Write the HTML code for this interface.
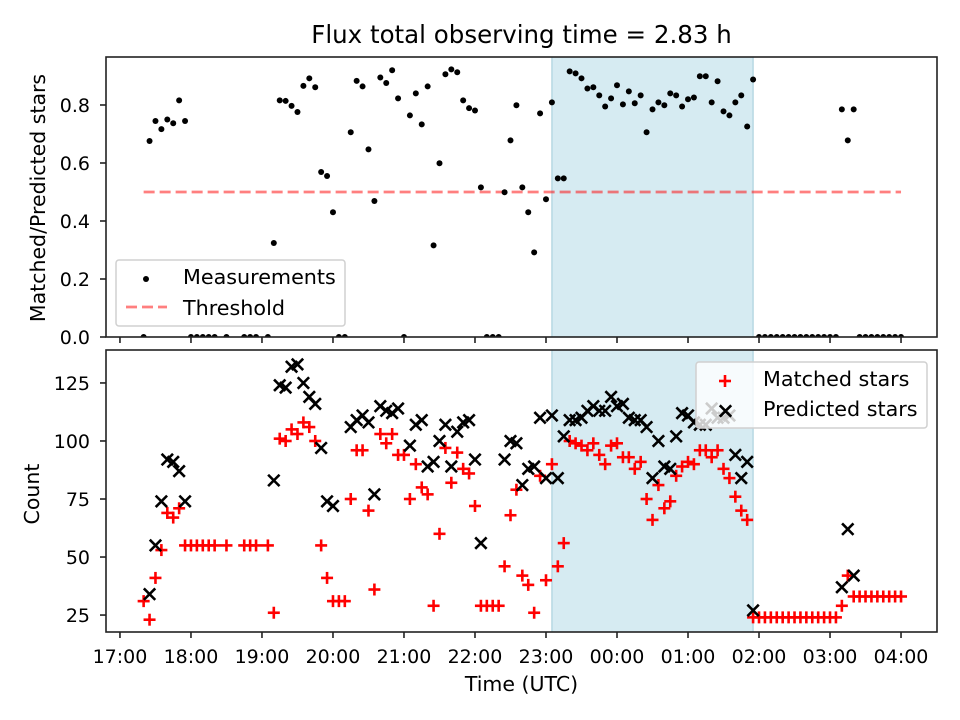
<!DOCTYPE html>
<html><head><meta charset="utf-8"><title>Flux observing time</title>
<style>
html,body{margin:0;padding:0;background:#fff;}
svg{display:block;font-family:"DejaVu Sans","Liberation Sans",sans-serif;}
</style></head>
<body>
<svg id="chart" width="960" height="720" viewBox="0 0 960 720" xmlns="http://www.w3.org/2000/svg">
<defs>
<clipPath id="clipTop"><rect x="106" y="57" width="831" height="280"/></clipPath>
<clipPath id="clipBot"><rect x="106" y="350" width="831" height="282"/></clipPath>
</defs>
<text x="521.5" y="43" font-size="24.5" text-anchor="middle">Flux total observing time = 2.83 h</text>
<g id="topPanel"></g>
<g id="botPanel"></g>
<text transform="translate(45,198) rotate(-90)" font-size="20.5" text-anchor="middle">Matched/Predicted stars</text>
<text transform="translate(39,494) rotate(-90)" font-size="20.5" text-anchor="middle">Count</text>
<text x="521.5" y="691" font-size="20.5" text-anchor="middle">Time (UTC)</text>
</svg>
<script>
// minutes after 17:00 UTC
const ratioTimes = [20,25,30,35,40,45,50,55,60,65,70,75,80,90,105,110,115,125,130,135,140,145,150,155,160,165,170,175,180,185,190,195,200,205,210,215,220,225,230,235,240,245,250,255,260,265,270,275,280,285,290,295,300,305,310,315,320,325,330,335,340,345,350,355,360,365,370,375,380,385,390,395,400,405,410,415,420,425,430,435,440,445,450,455,460,465,470,475,480,485,490,495,500,505,510,515,520,525,530,535,540,545,550,555,560,565,570,575,580,585,590,595,600,605,610,615,620,625,630,635,640,645,650,655,660];
const ratioValues = [0,.676,.745,.717,.75,.737,.816,.745,0,0,0,0,0,0,0,0,0,0,.324,.816,.814,.797,.776,.866,.892,.861,.569,.555,.43,0,0,.706,.883,.864,.647,.469,.895,.876,.92,.823,0,.764,.84,.733,.864,.316,.599,.906,.923,.913,.816,.789,.781,.516,0,0,0,.499,.678,.799,.516,.43,.292,.771,.475,.809,.547,.547,.916,.909,.892,.857,.861,.833,.795,.823,.868,.802,.847,.806,.833,.706,.785,.809,.799,.84,.833,.795,.82,.826,.899,.899,.809,.882,.778,.764,.809,.833,.726,.888,0,0,0,0,0,0,0,0,0,0,0,0,0,0,.785,.678,.785,0,0,0,0,0,0,0,0];
const thresholdValue = 0.5;
const thresholdRange = [20,660];
const spanRange = [365,535];
const matchedTimes = [20,25,30,35,40,45,50,55,60,65,70,75,80,90,105,110,115,125,130,135,140,145,150,155,160,165,170,175,180,185,190,195,200,205,210,215,220,225,230,235,240,245,250,255,260,265,270,275,280,285,290,295,300,305,310,315,320,325,330,335,340,345,350,355,360,365,370,375,380,385,390,395,400,405,410,415,420,425,430,435,440,445,450,455,460,465,470,475,480,485,490,495,500,505,510,515,520,525,530,535,540,545,550,555,560,565,570,575,580,585,590,595,600,605,610,615,620,625,630,635,640,645,650,655,660];
const matchedValues = [31,23,41,53,69,67,71,55,55,55,55,55,55,55,55,55,55,55,26,101,100,105,103,108,106,100,55,41,31,31,31,75,96,96,70,36,103,99,103,94,94,75,90,80,77,29,60,97,82,95,88,86,72,29,29,29,29,46,68,79,42,38,26,85,40,90,46,56,100,99,98,96,99,94,90,98,99,93,93,88,91,75,66,81,71,74,85,89,91,90,96,96,93,96,88,84,76,70,66,24,24,24,24,24,24,24,24,24,24,24,24,24,24,24,29,42,33,33,33,33,33,33,33,33,33];
const predictedTimes = [25,30,35,40,45,50,55,130,135,140,145,150,155,160,165,170,175,180,195,200,205,210,215,220,225,230,235,245,250,255,260,265,270,275,280,285,290,295,300,305,325,330,335,340,345,350,355,360,365,370,375,380,385,390,395,400,405,410,415,420,425,430,435,440,445,450,455,460,465,470,475,480,485,490,495,500,505,510,515,520,525,530,535,610,615,620];
const predictedValues = [34,55,74,92,91,87,74,83,124,123,132,133,125,119,116,97,74,72,106,109,111,108,77,115,113,112,114,98,107,109,89,91,100,107,89,104,108,109,92,56,92,100,99,81,88,89,110,84,111,84,102,109,109,110,113,115,113,113,119,115,116,110,109,109,106,84,100,89,88,102,112,111,108,107,107,114,110,110,111,94,84,91,27,37,62,42];
const ratioTicks = [0,0.2,0.4,0.6,0.8];
const ratioTickLabels = ["0.0","0.2","0.4","0.6","0.8"];
const countTicks = [25,50,75,100,125];
const timeTicks = [0,60,120,180,240,300,360,420,480,540,600,660];
const timeTickLabels = ["17:00","18:00","19:00","20:00","21:00","22:00","23:00","00:00","01:00","02:00","03:00","04:00"];

const NS = "http://www.w3.org/2000/svg";
const L = 106, R = 937;
const xMin = -11.8, xMax = 690.4;
const topY0 = 337, topY1 = 57, rMin = 0, rMax = 0.9655;
const botY0 = 632, botY1 = 350, cMin = 17.7, cMax = 139.2;
function xs(m){ return L + (m - xMin) / (xMax - xMin) * (R - L); }
function yr(v){ return topY0 - (v - rMin) / (rMax - rMin) * (topY0 - topY1); }
function yc(v){ return botY0 - (v - cMin) / (cMax - cMin) * (botY0 - botY1); }
function el(tag, attrs, parent){
  const e = document.createElementNS(NS, tag);
  for (const k in attrs) e.setAttribute(k, attrs[k]);
  parent.appendChild(e);
  return e;
}
const topG = document.getElementById('topPanel');
const botG = document.getElementById('botPanel');

function spanRect(parent, y0, y1){
  const r = el('rect', {x: xs(spanRange[0]), y: y1, width: xs(spanRange[1]) - xs(spanRange[0]), height: y0 - y1, fill: '#add8e6', 'fill-opacity': 0.5, stroke: '#9fcbd9', 'stroke-width': 1}, parent);
  
  
}
spanRect(topG, topY0, topY1);
spanRect(botG, botY0, botY1);

const tg = el('g', {'clip-path': 'url(#clipTop)'}, topG);
const th = el('line', {x1: xs(thresholdRange[0]), x2: xs(thresholdRange[1]), y1: yr(thresholdValue), y2: yr(thresholdValue), stroke: '#ff0000', 'stroke-opacity': 0.5, 'stroke-width': 2.8, 'stroke-dasharray': '11,5'}, tg);


for (let i = 0; i < ratioTimes.length; i++){
  const c = el('circle', {cx: xs(ratioTimes[i]), cy: yr(ratioValues[i]), r: 3, fill: '#000'}, tg);
  
  
}
const bg = el('g', {'clip-path': 'url(#clipBot)'}, botG);
function plus(parent, x, y){
  const g = el('g', {stroke: '#ff0000', 'stroke-width': 2.6}, parent);
  el('line', {x1: x - 6, x2: x + 6, y1: y, y2: y}, g);
  el('line', {x1: x, x2: x, y1: y - 6, y2: y + 6}, g);
  return g;
}
function cross(parent, x, y){
  const g = el('g', {stroke: '#000', 'stroke-width': 2.6}, parent);
  el('line', {x1: x - 5.7, x2: x + 5.7, y1: y - 5.7, y2: y + 5.7}, g);
  el('line', {x1: x - 5.7, x2: x + 5.7, y1: y + 5.7, y2: y - 5.7}, g);
  return g;
}
for (let i = 0; i < matchedTimes.length; i++){
  const g = plus(bg, xs(matchedTimes[i]), yc(matchedValues[i]));
  
  
}
for (let i = 0; i < predictedTimes.length; i++){
  const g = cross(bg, xs(predictedTimes[i]), yc(predictedValues[i]));
  
  
}

function frame(parent, y0, y1){
  const r = el('rect', {x: L, y: y1, width: R - L, height: y0 - y1, fill: 'none', stroke: '#222', 'stroke-width': 1.6}, parent);
  
  
}
frame(topG, topY0, topY1);
frame(botG, botY0, botY1);
for (let i = 0; i < timeTicks.length; i++){
  const x = xs(timeTicks[i]);
  el('line', {x1: x, x2: x, y1: topY0, y2: topY0 + 6, stroke: '#222', 'stroke-width': 1.6}, topG);
  el('line', {x1: x, x2: x, y1: botY0, y2: botY0 + 6, stroke: '#222', 'stroke-width': 1.6}, botG);
  const t = el('text', {x: x, y: 663, 'font-size': 19, 'text-anchor': 'middle'}, botG);
  t.textContent = timeTickLabels[i];
  
  
}
for (let i = 0; i < ratioTicks.length; i++){
  const y = yr(ratioTicks[i]);
  el('line', {x1: L - 6, x2: L, y1: y, y2: y, stroke: '#222', 'stroke-width': 1.6}, topG);
  const t = el('text', {x: 90, y: y + 7, 'font-size': 19, 'text-anchor': 'end'}, topG);
  t.textContent = ratioTickLabels[i];
  
  
}
for (let i = 0; i < countTicks.length; i++){
  const y = yc(countTicks[i]);
  el('line', {x1: L - 6, x2: L, y1: y, y2: y, stroke: '#222', 'stroke-width': 1.6}, botG);
  const t = el('text', {x: 90, y: y + 7, 'font-size': 19, 'text-anchor': 'end'}, botG);
  t.textContent = String(countTicks[i]);
  
  
}

const lg1 = el('g', {}, topG);


el('rect', {x: 116, y: 260, width: 229, height: 66, rx: 3, fill: '#fff', 'fill-opacity': 0.8, stroke: '#d0d0d0', 'stroke-width': 1.5}, lg1);
el('circle', {cx: 146, cy: 279, r: 3, fill: '#000'}, lg1);
const l1t = el('text', {x: 183, y: 284, 'font-size': 20.7}, lg1); l1t.textContent = 'Measurements';
el('line', {x1: 126, x2: 167, y1: 307, y2: 307, stroke: '#ff0000', 'stroke-opacity': 0.5, 'stroke-width': 2.8, 'stroke-dasharray': '11,5'}, lg1);
const l2t = el('text', {x: 183, y: 315, 'font-size': 20.7}, lg1); l2t.textContent = 'Threshold';

const lg2 = el('g', {}, botG);


el('rect', {x: 696, y: 362, width: 231, height: 66, rx: 3, fill: '#fff', 'fill-opacity': 0.8, stroke: '#d0d0d0', 'stroke-width': 1.5}, lg2);
plus(lg2, 725, 381);
const l3t = el('text', {x: 763, y: 386, 'font-size': 20.7}, lg2); l3t.textContent = 'Matched stars';
cross(lg2, 725.5, 411);
const l4t = el('text', {x: 763, y: 416, 'font-size': 20.7}, lg2); l4t.textContent = 'Predicted stars';
</script>
</body></html>
